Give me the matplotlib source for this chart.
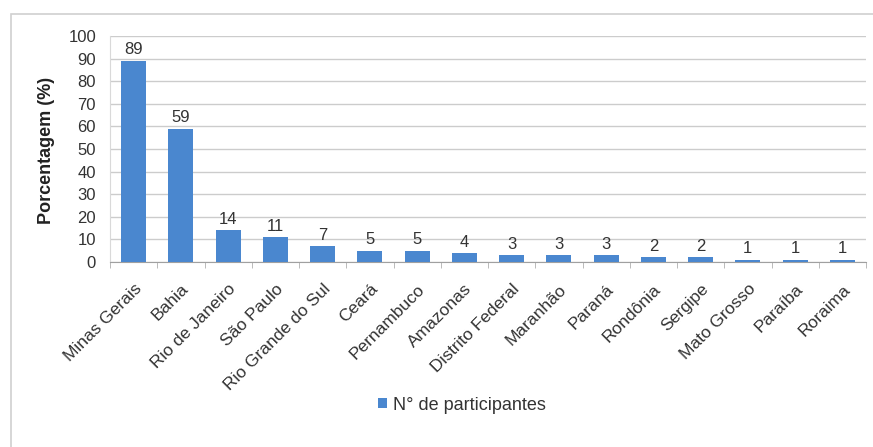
import numpy as np
import matplotlib.pyplot as plt
import matplotlib.transforms as mtransforms
from matplotlib.patches import Rectangle

estados = ['Minas Gerais', 'Bahia', 'Rio de Janeiro', 'São Paulo',
           'Rio Grande do Sul', 'Ceará', 'Pernambuco', 'Amazonas',
           'Distrito Federal', 'Maranhão', 'Paraná', 'Rondônia',
           'Sergipe', 'Mato Grosso', 'Paraíba', 'Roraima']
participantes = [89, 59, 14, 11, 7, 5, 5, 4, 3, 3, 3, 2, 2, 1, 1, 1]
y_ticks = list(range(0, 101, 10))

plt.rcParams['font.family'] = ['Liberation Sans', 'DejaVu Sans']

W, H = 873, 447
fig = plt.figure(figsize=(W / 100, H / 100), dpi=100)
# outer chart frame (Excel style)
fig.patches.append(Rectangle((11 / W, -0.05), 1.1, 1 - 14 / H + 0.05,
                             transform=fig.transFigure, fill=False,
                             edgecolor='#d0d0d0', linewidth=1.2))

ax = fig.add_axes([110 / W, 1 - 262 / H, (866 - 110) / W, (262 - 36) / H])
x = np.arange(len(estados))
bars = ax.bar(x, participantes, width=0.53, color='#4a87cf',
              label='N° de participantes', zorder=3)
for xi, v in zip(x, participantes):
    ax.text(xi, v + 1.5, str(v), ha='center', va='bottom', fontsize=12,
            color='#333333')

ax.set_xlim(-0.5, len(estados) - 0.5)
ax.set_ylim(0, 100)
ax.set_yticks(y_ticks)
ax.tick_params(axis='y', length=0, labelsize=12, colors='#333333', pad=10)
ax.set_xticks(x)
ax.set_xticklabels(estados, rotation=45, ha='right', va='top',
                   rotation_mode='anchor', fontsize=12.5, color='#333333')
shift = mtransforms.ScaledTranslation(5 / 100, 0, fig.dpi_scale_trans)
for lbl in ax.get_xticklabels():
    lbl.set_transform(lbl.get_transform() + shift)
ax.tick_params(axis='x', length=0, pad=14)
ax.set_xticks(np.arange(-0.5, len(estados), 1), minor=True)
ax.tick_params(axis='x', which='minor', length=4, color='#b0b0b0')
ax.grid(axis='y', color='#cccccc', linewidth=1, zorder=0)
for s in ['top', 'right']:
    ax.spines[s].set_visible(False)
ax.spines['left'].set_color('#d9d9d9')
ax.spines['bottom'].set_color('#a0a0a0')

fig.text(47 / W, 1 - 150 / H, 'Porcentagem (%)', rotation=90, ha='center',
         va='center', fontsize=13, fontweight='bold', color='#222222')

fig.legend(handles=[bars], labels=['N° de participantes'], loc='center',
           bbox_to_anchor=(462 / W, 1 - 405 / H), frameon=False, fontsize=13,
           handlelength=0.5, handleheight=0.5, handletextpad=0.3,
           labelcolor='#333333')

fig.savefig('out.png', dpi=100)
